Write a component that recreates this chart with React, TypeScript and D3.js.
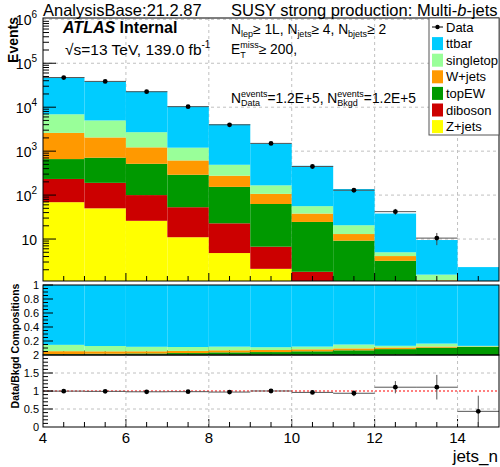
import { useEffect, useRef } from 'react';
import * as d3 from 'd3';

// bins of jets_n, width 1
const binLow = [4, 5, 6, 7, 8, 9, 10, 11, 12, 13, 14];

// background yields per bin (stack order bottom -> top)
const zjets = [69, 50, 26, 11, 4.8, 2.1, 0.6, 0, 0, 0, 0];
const diboson = [164, 140, 74, 42, 18, 4.6, 1.2, 0.5, 0.2, 0, 0];
const topEW = [427, 520, 415, 237, 131, 56, 22.7, 8.7, 3.0, 0.99, 0.27];
const wjets = [1940, 1340, 705, 325, 122, 44, 13.5, 3.8, 0.9, 0.16, 0.01];
const singletop = [4300, 2950, 1480, 585, 214, 60, 18, 7.6, 0.9, 0.4, 0.02];
const ttbar = [40600, 34000, 20300, 9300, 3610, 1333, 409, 117, 33, 7.95, 2.0];
const dataCounts = [47300, 38600, 22500, 10300, 3980, 1500, 447, 129, 42, 10.5, 1.0];

const samples = [
  { name: 'Z+jets', values: zjets, color: '#ffff00' },
  { name: 'diboson', values: diboson, color: '#cc0000' },
  { name: 'topEW', values: topEW, color: '#009900' },
  { name: 'W+jets', values: wjets, color: '#ff9900' },
  { name: 'singletop', values: singletop, color: '#99ff99' },
  { name: 'ttbar', values: ttbar, color: '#00ccff' },
];

const xTicks = [4, 6, 8, 10, 12, 14];
const yDecades = [1, 2, 3, 4, 5, 6];
const compTicks = [0.2, 0.4, 0.6, 0.8, 1];
const ratioTicks = [0, 0.5, 1, 1.5, 2];
const ratioTickLabels = ['0', '0.5', '1', '1.5', '2'];

const FONT = "'Liberation Sans', Arial, Helvetica, sans-serif";

type Part = { t: string; fs: number; dy?: number; fw?: string; fst?: string; stack?: boolean };

// draw a line of text made of pieces (sub/superscripts), measuring as we go
function rich(g: any, x: number, y: number, parts: Part[]) {
  let cx = x;
  let pending = 0;
  parts.forEach(p => {
    const t = g.append('text')
      .attr('x', cx)
      .attr('y', y + (p.dy || 0))
      .attr('font-size', p.fs)
      .attr('font-weight', p.fw || 'normal')
      .attr('font-style', p.fst || 'normal')
      .style('white-space', 'pre')
      .text(p.t);
    const w = (t.node() as SVGTextElement).getComputedTextLength();
    if (p.stack) {
      pending = w;
    } else {
      cx += Math.max(w, pending);
      pending = 0;
    }
  });
}

export default function App() {
  const svgRef = useRef<SVGSVGElement>(null);

  useEffect(() => {
    if (!svgRef.current) return;
    const svg = d3.select(svgRef.current);
    svg.selectAll('*').remove();
    svg.attr('font-family', FONT);

    const left = 43, right = 499;
    const mainTop = 18, mainBot = 281;
    const compTop = 285, compBot = 355;
    const ratioTop = 355, ratioBot = 427;

    const x = d3.scaleLinear().domain([4, 15]).range([left, right]);
    const yMain = d3.scaleLog().domain([1.11, 1.07e6]).range([mainBot, mainTop]);
    const yComp = d3.scaleLinear().domain([0, 1]).range([compBot, compTop]);
    const yRatio = d3.scaleLinear().domain([0, 2]).range([ratioBot, ratioTop]);

    const totals = binLow.map((_, i) => d3.sum(samples, s => s.values[i]));

    const defs = svg.append('defs');
    defs.append('clipPath').attr('id', 'clipMain')
      .append('rect').attr('x', left).attr('y', mainTop).attr('width', right - left).attr('height', mainBot - mainTop);
    defs.append('clipPath').attr('id', 'clipRatio')
      .append('rect').attr('x', left).attr('y', ratioTop).attr('width', right - left).attr('height', ratioBot - ratioTop);

    const grid = (g: any, x1: number, y1: number, x2: number, y2: number) =>
      g.append('line')
        .attr('x1', x1).attr('y1', y1).attr('x2', x2).attr('y2', y2)
        .attr('stroke', '#c0c0c0')
        .attr('stroke-dasharray', '3,3')
        .attr('stroke-width', 1);

    // ---------- main panel ----------
    const gm = svg.append('g');
    xTicks.slice(1).forEach(v => grid(gm, x(v), mainTop, x(v), mainBot));
    yDecades.forEach(d => grid(gm, left, yMain(Math.pow(10, d)), right, yMain(Math.pow(10, d))));

    const stackG = gm.append('g').attr('clip-path', 'url(#clipMain)');
    binLow.forEach((b, i) => {
      let cum = 0;
      samples.forEach(s => {
        const v = s.values[i];
        if (v <= 0) return;
        const lo = Math.max(cum, 1e-3);
        const hi = cum + v;
        cum = hi;
        stackG.append('rect')
          .attr('x', x(b))
          .attr('width', x(b + 1) - x(b))
          .attr('y', yMain(hi))
          .attr('height', Math.max(0, yMain(lo) - yMain(hi)))
          .attr('fill', s.color);
      });
    });

    // data
    const dataG = gm.append('g').attr('clip-path', 'url(#clipMain)');
    binLow.forEach((b, i) => {
      const v = dataCounts[i];
      if (v < 1.11) return;
      const e = Math.sqrt(v);
      dataG.append('line')
        .attr('x1', x(b)).attr('x2', x(b + 1))
        .attr('y1', yMain(v)).attr('y2', yMain(v))
        .attr('stroke', '#555').attr('stroke-width', 1);
      dataG.append('line')
        .attr('x1', x(b + 0.5)).attr('x2', x(b + 0.5))
        .attr('y1', yMain(v + e)).attr('y2', yMain(Math.max(v - e, 1e-3)))
        .attr('stroke', '#444').attr('stroke-width', 1);
      dataG.append('circle')
        .attr('cx', x(b + 0.5)).attr('cy', yMain(v)).attr('r', 2.4).attr('fill', '#000');
    });

    gm.append('rect')
      .attr('x', left).attr('y', mainTop).attr('width', right - left).attr('height', mainBot - mainTop)
      .attr('fill', 'none').attr('stroke', '#000').attr('stroke-width', 1);

    // main y ticks
    yDecades.forEach(d => {
      for (let m = 1; m <= 9; m++) {
        const v = m * Math.pow(10, d - 1);
        if (v < 1.11 || v > 1.07e6) continue;
        const yy = yMain(v);
        gm.append('line')
          .attr('x1', left).attr('x2', left + (m === 1 ? 13 : 6))
          .attr('y1', yy).attr('y2', yy)
          .attr('stroke', '#000');
      }
      const t = gm.append('text')
        .attr('x', 37)
        .attr('y', yMain(Math.pow(10, d)) + 6)
        .attr('text-anchor', 'end')
        .attr('font-size', 14);
      t.append('tspan').text('10');
      if (d > 1) t.append('tspan').attr('dy', -7).attr('font-size', 10).text(String(d));
    });

    // x ticks (main, comp, ratio)
    const xTickG = svg.append('g');
    [mainBot, compBot, ratioBot].forEach(yb => {
      d3.range(4.5, 15, 0.5).forEach(v => {
        const major = v % 2 === 0;
        xTickG.append('line')
          .attr('x1', x(v)).attr('x2', x(v))
          .attr('y1', yb).attr('y2', yb - (major ? 8 : 5))
          .attr('stroke', '#000');
      });
    });

    svg.append('text')
      .attr('transform', `translate(18, ${mainTop - 1}) rotate(-90)`)
      .attr('text-anchor', 'end')
      .attr('font-size', 14)
      .attr('font-weight', 'bold')
      .text('Events');

    // ---------- composition panel ----------
    const gc = svg.append('g');
    binLow.forEach((b, i) => {
      let cum = 0;
      samples.forEach(s => {
        const v = s.values[i] / totals[i];
        if (v <= 0) return;
        const lo = cum;
        cum += v;
        gc.append('rect')
          .attr('x', x(b))
          .attr('width', x(b + 1) - x(b))
          .attr('y', yComp(cum))
          .attr('height', yComp(lo) - yComp(cum))
          .attr('fill', s.color);
      });
    });
    gc.append('rect')
      .attr('x', left).attr('y', compTop).attr('width', right - left).attr('height', compBot - compTop)
      .attr('fill', 'none').attr('stroke', '#000').attr('stroke-width', 1);
    d3.range(0.05, 1.001, 0.05).forEach(v => {
      const major = Math.abs(v * 5 - Math.round(v * 5)) < 1e-6;
      gc.append('line')
        .attr('x1', left).attr('x2', left + (major ? 10 : 5))
        .attr('y1', yComp(v)).attr('y2', yComp(v))
        .attr('stroke', '#000');
    });
    compTicks.forEach(v => {
      gc.append('text')
        .attr('x', 39).attr('y', yComp(v) + 4)
        .attr('text-anchor', 'end')
        .attr('font-size', 11)
        .text(String(v));
    });

    // ---------- ratio panel ----------
    const gr = svg.append('g');
    xTicks.slice(1).forEach(v => grid(gr, x(v), ratioTop, x(v), ratioBot));
    [0.5, 1.5].forEach(v => grid(gr, left, yRatio(v), right, yRatio(v)));
    gr.append('line')
      .attr('x1', left).attr('x2', right)
      .attr('y1', yRatio(1)).attr('y2', yRatio(1))
      .attr('stroke', '#ff0000')
      .attr('stroke-dasharray', '2,2')
      .attr('stroke-width', 1.2);

    const rg = gr.append('g').attr('clip-path', 'url(#clipRatio)');
    binLow.forEach((b, i) => {
      const r = dataCounts[i] / totals[i];
      const e = Math.sqrt(dataCounts[i]) / totals[i];
      rg.append('line')
        .attr('x1', x(b)).attr('x2', x(b + 1))
        .attr('y1', yRatio(r)).attr('y2', yRatio(r))
        .attr('stroke', '#555').attr('stroke-width', 1);
      rg.append('line')
        .attr('x1', x(b + 0.5)).attr('x2', x(b + 0.5))
        .attr('y1', yRatio(r + e)).attr('y2', yRatio(r - e))
        .attr('stroke', '#555').attr('stroke-width', 1);
      rg.append('circle')
        .attr('cx', x(b + 0.5)).attr('cy', yRatio(r)).attr('r', 2.4).attr('fill', '#000');
    });

    gr.append('rect')
      .attr('x', left).attr('y', ratioTop).attr('width', right - left).attr('height', ratioBot - ratioTop)
      .attr('fill', 'none').attr('stroke', '#000').attr('stroke-width', 1);
    d3.range(0.1, 2, 0.1).forEach(v => {
      const major = Math.abs(v * 2 - Math.round(v * 2)) < 1e-6;
      gr.append('line')
        .attr('x1', left).attr('x2', left + (major ? 10 : 5))
        .attr('y1', yRatio(v)).attr('y2', yRatio(v))
        .attr('stroke', '#000');
    });
    ratioTicks.forEach((v, i) => {
      gr.append('text')
        .attr('x', 39).attr('y', yRatio(v) + 4)
        .attr('text-anchor', 'end')
        .attr('font-size', 11)
        .text(ratioTickLabels[i]);
    });
    xTicks.forEach(v => {
      gr.append('text')
        .attr('x', x(v)).attr('y', 443)
        .attr('text-anchor', 'middle')
        .attr('font-size', 15)
        .text(String(v));
    });
    gr.append('text')
      .attr('x', 498).attr('y', 462)
      .attr('text-anchor', 'end')
      .attr('font-size', 17)
      .text('jets_n');

    svg.append('text')
      .attr('transform', `translate(19, 346) rotate(-90)`)
      .attr('text-anchor', 'middle')
      .attr('font-size', 10.5)
      .attr('font-weight', 'bold')
      .text('Data/Bkgd Compositions');

    // ---------- legend ----------
    const lg = svg.append('g');
    lg.append('rect')
      .attr('x', 429).attr('y', mainTop).attr('width', right - 429).attr('height', 117)
      .attr('fill', '#fff').attr('stroke', '#555').attr('stroke-width', 1);
    const rowY = (i: number) => 27 + i * 16.6;
    lg.append('line').attr('x1', 432).attr('x2', 443).attr('y1', rowY(0)).attr('y2', rowY(0)).attr('stroke', '#000');
    lg.append('circle').attr('cx', 437.5).attr('cy', rowY(0)).attr('r', 2.2).attr('fill', '#000');
    lg.append('text').attr('x', 446).attr('y', rowY(0) + 4.5).attr('font-size', 13).text('Data');
    samples.slice().reverse().forEach((s, j) => {
      const yy = rowY(j + 1);
      lg.append('rect')
        .attr('x', 432).attr('y', yy - 6.5).attr('width', 11).attr('height', 13)
        .attr('fill', s.color);
      lg.append('text').attr('x', 446).attr('y', yy + 4.5).attr('font-size', 13).text(s.name);
    });

    // ---------- header texts ----------
    svg.append('text').attr('x', 43).attr('y', 16).attr('font-size', 16.5).text('AnalysisBase:21.2.87');
    const title = svg.append('g');
    rich(title, 231, 16, [
      { t: 'SUSY strong production: Multi-', fs: 16.5 },
      { t: 'b', fs: 16.5, fst: 'italic' },
      { t: '-jets', fs: 16.5 },
    ]);

    const tg = svg.append('g');
    rich(tg, 63, 33, [
      { t: 'ATLAS', fs: 16, fw: 'bold', fst: 'italic' },
      { t: ' Internal', fs: 16, fw: 'bold' },
    ]);
    rich(tg, 65, 55, [
      { t: '\u221As=13 TeV, 139.0 fb', fs: 15.5 },
      { t: '-1', fs: 10, dy: -7 },
    ]);
    rich(tg, 231, 33.5, [
      { t: 'N', fs: 13.8 },
      { t: 'lep', fs: 9, dy: 3.5 },
      { t: '\u2265 1L, N', fs: 13.8 },
      { t: 'jets', fs: 9, dy: 3.5 },
      { t: '\u2265 4, N', fs: 13.8 },
      { t: 'bjets', fs: 9, dy: 3.5 },
      { t: '\u2265 2', fs: 13.8 },
    ]);
    rich(tg, 231, 54, [
      { t: 'E', fs: 13.8 },
      { t: 'miss', fs: 9, dy: -6, stack: true },
      { t: 'T', fs: 9, dy: 3.5 },
      { t: '\u2265 200,', fs: 13.8 },
    ]);
    rich(tg, 231, 102.5, [
      { t: 'N', fs: 13.8 },
      { t: 'events', fs: 9, dy: -6, stack: true },
      { t: 'Data', fs: 9, dy: 3.5 },
      { t: '=1.2E+5, N', fs: 13.8 },
      { t: 'events', fs: 9, dy: -6, stack: true },
      { t: 'Bkgd', fs: 9, dy: 3.5 },
      { t: '=1.2E+5', fs: 13.8 },
    ]);
  }, []);

  return (
    <svg
      ref={svgRef}
      width={500}
      height={467}
      style={{ position: 'absolute', left: 0, top: 0, background: '#fff' }}
    />
  );
}
